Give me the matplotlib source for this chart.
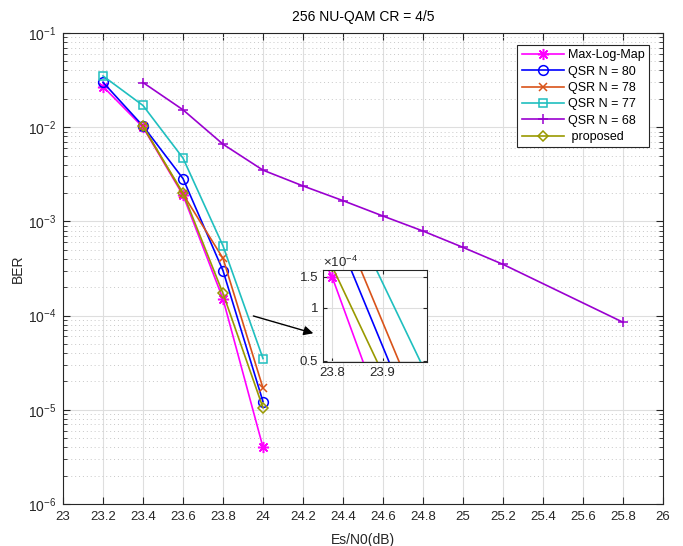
import matplotlib
matplotlib.use('Agg')
import matplotlib.pyplot as plt
from matplotlib.ticker import FixedLocator, NullLocator, LogLocator, NullFormatter, FixedFormatter

plt.rcParams['font.family'] = ['Liberation Sans', 'DejaVu Sans']
plt.rcParams['mathtext.default'] = 'regular'

snr_mlm = [23.2, 23.4, 23.6, 23.8, 24.0]
ber_mlm = [2.7e-2, 1.0e-2, 1.9e-3, 1.5e-4, 4.0e-6]
snr_n80 = [23.2, 23.4, 23.6, 23.8, 24.0]
ber_n80 = [3.0e-2, 1.03e-2, 2.85e-3, 3.0e-4, 1.22e-5]
snr_n78 = [23.4, 23.6, 23.8, 24.0]
ber_n78 = [1.02e-2, 1.95e-3, 4.05e-4, 1.7e-5]
snr_n77 = [23.2, 23.4, 23.6, 23.8, 24.0]
ber_n77 = [3.5e-2, 1.7e-2, 4.7e-3, 5.5e-4, 3.5e-5]
snr_n68 = [23.4, 23.6, 23.8, 24.0, 24.2, 24.4, 24.6, 24.8, 25.0, 25.2, 25.8]
ber_n68 = [2.98e-2, 1.53e-2, 6.6e-3, 3.5e-3, 2.38e-3, 1.66e-3, 1.14e-3, 7.9e-4, 5.3e-4, 3.5e-4, 8.5e-5]
snr_prop = [23.4, 23.6, 23.8, 24.0]
ber_prop = [1.02e-2, 2.0e-3, 1.72e-4, 1.05e-5]

labels = ['Max-Log-Map', 'QSR N = 80', 'QSR N = 78', 'QSR N = 77', 'QSR N = 68', ' proposed']
xticks = [23 + 0.2 * i for i in range(16)]
xticklabels = ['23', '23.2', '23.4', '23.6', '23.8', '24', '24.2', '24.4', '24.6', '24.8',
               '25', '25.2', '25.4', '25.6', '25.8', '26']
inset_yticks = [0.5e-4, 1e-4, 1.5e-4]
inset_yticklabels = ['0.5', '1', '1.5']
inset_xticks = [23.8, 23.9]
inset_xticklabels = ['23.8', '23.9']

series = [
    (snr_mlm, ber_mlm, '#ff00ff', (8, 2, 0), 'full'),
    (snr_n80, ber_n80, '#0000ff', 'o', 'none'),
    (snr_n78, ber_n78, '#d95319', 'x', 'none'),
    (snr_n77, ber_n77, '#1fbfbf', 's', 'none'),
    (snr_n68, ber_n68, '#9a00d0', '+', 'none'),
    (snr_prop, ber_prop, '#999900', 'D', 'none'),
]
msizes = [8, 7, 6, 6, 7.5, 5.5]

fig = plt.figure(figsize=(6.83, 5.46), dpi=100)
ax = fig.add_axes([63/683, 42/546, 600/683, 471/546])
dark = '#262626'

for (x, y, c, m, fill), lab, ms in zip(series, labels, msizes):
    ax.plot(x, y, color=c, marker=m, markersize=ms, fillstyle=fill, linewidth=1.2,
            markeredgewidth=1.1, label=lab)

ax.set_yscale('log')
ax.set_xlim(23, 26)
ax.set_ylim(1e-6, 1e-1)
ax.set_xticks(xticks)
ax.set_xticklabels(xticklabels)
ax.yaxis.set_major_locator(LogLocator(base=10, numticks=10))
ax.yaxis.set_minor_locator(LogLocator(base=10, subs=range(2, 10), numticks=20))
ax.yaxis.set_minor_formatter(NullFormatter())
ax.tick_params(which='both', direction='in', top=True, right=True, colors=dark, labelsize=9.5)
ax.tick_params(axis='y', labelsize=10)
ax.tick_params(which='major', length=5, pad=5)
ax.tick_params(which='minor', length=3)
ax.grid(True, which='major', color='#dedede', linewidth=0.8, linestyle='-')
ax.grid(True, which='minor', axis='y', color='#c8c8c8', linewidth=0.7, linestyle=(0, (1, 3)))
ax.set_axisbelow(True)
for s in ax.spines.values():
    s.set_color(dark)
    s.set_linewidth(0.8)
ax.set_title('256 NU-QAM CR = 4/5', fontsize=10, color='#000000', pad=9)
ax.set_xlabel('Es/N0(dB)', fontsize=10, color=dark, labelpad=7)
ax.set_ylabel('BER', fontsize=10, color=dark, labelpad=2)

leg = ax.legend(loc='upper right', bbox_to_anchor=(0.9767, 0.975), fontsize=9,
                frameon=True, fancybox=False, framealpha=1, edgecolor=dark,
                handlelength=3.4, labelspacing=0.35, borderpad=0.35, handletextpad=0.3,
                borderaxespad=0)
leg.get_frame().set_linewidth(0.8)

ax.annotate('', xy=(24.265, 6.37e-5), xytext=(23.9385, 1.01e-4),
            arrowprops=dict(arrowstyle='-|>', color='black', lw=1.0, mutation_scale=14))

ins = fig.add_axes([323/683, 184/546, 104/683, 92/546])
for (x, y, c, m, fill), ms in zip(series, msizes):
    ins.plot(x, y, color=c, marker=m, markersize=ms, fillstyle=fill, linewidth=1.2,
             markeredgewidth=1.1)
ins.set_yscale('log')
ins.set_xlim(23.782, 23.988)
ins.set_ylim(0.4915e-4, 1.64e-4)
ins.yaxis.set_major_locator(FixedLocator(inset_yticks))
ins.yaxis.set_major_formatter(FixedFormatter(inset_yticklabels))
ins.yaxis.set_minor_locator(NullLocator())
ins.yaxis.set_minor_formatter(NullFormatter())
ins.set_xticks(inset_xticks)
ins.set_xticklabels(inset_xticklabels)
ins.tick_params(which='both', direction='in', top=True, right=True, colors=dark, labelsize=9.5, length=3)
ins.grid(True, color='#dedede', linewidth=0.8)
ins.set_axisbelow(True)
for s in ins.spines.values():
    s.set_color(dark)
    s.set_linewidth(0.8)
ins.text(0.0, 1.0, r'$\times10^{-4}$', transform=ins.transAxes, ha='left', va='bottom',
         fontsize=9.5, color=dark)

fig.savefig('out.png', dpi=100)
